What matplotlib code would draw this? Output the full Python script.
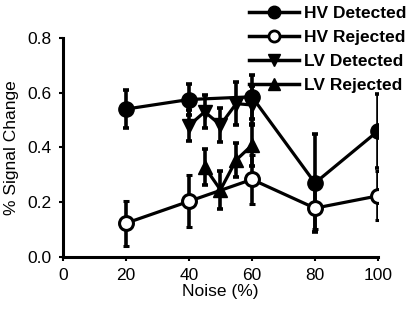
import matplotlib
matplotlib.use("Agg")
import matplotlib.pyplot as plt
from matplotlib.lines import Line2D

plt.rcParams['font.family'] = ['Liberation Sans', 'DejaVu Sans']

# data
hv_x = [20, 40, 60, 80, 100]
hv_det = [0.54, 0.575, 0.585, 0.27, 0.46]
hv_det_err = [0.07, 0.055, 0.08, 0.18, 0.135]
hv_rej = [0.123, 0.203, 0.283, 0.178, 0.223]
hv_rej_err = [0.083, 0.095, 0.09, 0.077, 0.09]

lv_det_x = [40, 45, 50, 55, 60]
lv_det = [0.48, 0.53, 0.482, 0.56, 0.555]
lv_det_err = [0.055, 0.06, 0.062, 0.078, 0.07]
lv_rej_x = [45, 50, 55, 60]
lv_rej = [0.328, 0.245, 0.354, 0.408]
lv_rej_err = [0.065, 0.07, 0.063, 0.075]

labels = ['HV Detected', 'HV Rejected', 'LV Detected', 'LV Rejected']

fig = plt.figure(figsize=(4.14, 3.11), dpi=100)
ax = fig.add_axes([0.152, 0.174, 0.761, 0.704])

common = dict(color='black', lw=2.3, elinewidth=2.6, capsize=2.5, capthick=2.6)
ax.errorbar(hv_x, hv_det, yerr=hv_det_err, marker='o', ms=11,
            mfc='black', mec='black', **common)
ax.errorbar(hv_x, hv_rej, yerr=hv_rej_err, marker='o', ms=10, mew=2.2,
            mfc='white', mec='black', **common)
ax.errorbar(lv_det_x, lv_det, yerr=lv_det_err, marker='v', ms=10,
            mfc='black', mec='black', **common)
ax.errorbar(lv_rej_x, lv_rej, yerr=lv_rej_err, marker='^', ms=10,
            mfc='black', mec='black', **common)

ax.set_xlim(0, 100)
ax.set_ylim(0, 0.8)
ax.set_xticks([0, 20, 40, 60, 80, 100])
ax.set_yticks([0.0, 0.2, 0.4, 0.6, 0.8])
ax.set_yticklabels(['0.0', '0.2', '0.4', '0.6', '0.8'])
for side in ['top', 'right']:
    ax.spines[side].set_visible(False)
for side in ['left', 'bottom']:
    ax.spines[side].set_linewidth(2.2)
ax.tick_params(direction='out', length=3, width=1.5, labelsize=12.5, pad=5)
ax.set_xlabel('Noise (%)', fontsize=12.5, labelpad=1)
ax.set_ylabel('% Signal Change', fontsize=12.5, labelpad=6)

# legend handles: line + marker only, no error bars
handles = [
    Line2D([], [], color='black', lw=2.5, marker='o', ms=9, mfc='black'),
    Line2D([], [], color='black', lw=2.5, marker='o', ms=8, mew=2, mfc='white'),
    Line2D([], [], color='black', lw=2.5, marker='v', ms=9, mfc='black'),
    Line2D([], [], color='black', lw=2.5, marker='^', ms=9, mfc='black'),
]
fig.legend(handles=handles, labels=labels, loc='upper right',
           bbox_to_anchor=(1.02, 1.03), frameon=False,
           prop={'weight': 'bold', 'size': 12.5},
           handlelength=2.9, handletextpad=0.3, labelspacing=0.5)

fig.savefig('out.png', dpi=100)
